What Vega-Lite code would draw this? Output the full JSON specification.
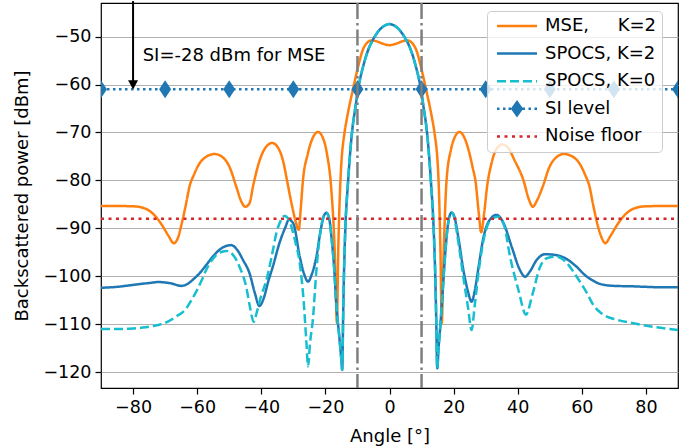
{
  "$schema": "https://vega.github.io/schema/vega-lite/v6.json",
  "width": 577,
  "height": 385,
  "autosize": {"type": "none"},
  "padding": {"left": 101, "top": 3, "right": 21, "bottom": 60},
  "config": {
    "font": "DejaVu Sans",
    "view": {"stroke": "#000000", "strokeWidth": 1.2},
    "axis": {
      "labelFont": "DejaVu Sans", "labelFontSize": 17.5, "labelColor": "#000000",
      "titleFont": "DejaVu Sans", "titleFontSize": 18, "titleFontWeight": "normal", "titleColor": "#000000",
      "tickColor": "#000000", "tickWidth": 1.2, "tickSize": 6, "domain": false, "labelPadding": 4
    },
    "axisX": {"grid": false, "titlePadding": 12},
    "axisY": {"grid": true, "gridColor": "#b0b0b0", "gridWidth": 1.2, "titlePadding": 11},
    "legend": {
      "orient": "none", "legendX": 386, "legendY": 8, "labelFont": "DejaVu Sans", "labelFontSize": 18, "labelColor": "#000000",
      "fillColor": "rgba(255,255,255,0.8)", "strokeColor": "#cccccc", "cornerRadius": 4, "padding": 6,
      "symbolSize": 100, "symbolStrokeWidth": 2.5, "rowPadding": 9.6, "labelOffset": 34, "labelLimit": 300
    }
  },
  "datasets": {
    "curves": [
      {"series": "MSE, K=2", "x": -90, "y": -85.35}, {"series": "MSE, K=2", "x": -85, "y": -85.35}, {"series": "MSE, K=2", "x": -80, "y": -85.4}, {"series": "MSE, K=2", "x": -77, "y": -85.7}, {"series": "MSE, K=2", "x": -75, "y": -86.3}, {"series": "MSE, K=2", "x": -73, "y": -87.5}, {"series": "MSE, K=2", "x": -71, "y": -89.3}, {"series": "MSE, K=2", "x": -69, "y": -91.5}, {"series": "MSE, K=2", "x": -67.3, "y": -93.1}, {"series": "MSE, K=2", "x": -66, "y": -92}, {"series": "MSE, K=2", "x": -65, "y": -89.5}, {"series": "MSE, K=2", "x": -63.5, "y": -85}, {"series": "MSE, K=2", "x": -62.4, "y": -81.3}, {"series": "MSE, K=2", "x": -61, "y": -78.8}, {"series": "MSE, K=2", "x": -59.3, "y": -76.5}, {"series": "MSE, K=2", "x": -57, "y": -75}, {"series": "MSE, K=2", "x": -54.6, "y": -74.5}, {"series": "MSE, K=2", "x": -52, "y": -75.2}, {"series": "MSE, K=2", "x": -49.9, "y": -77.2}, {"series": "MSE, K=2", "x": -47.8, "y": -81.3}, {"series": "MSE, K=2", "x": -46.3, "y": -84.3}, {"series": "MSE, K=2", "x": -45, "y": -85.5}, {"series": "MSE, K=2", "x": -43.7, "y": -84.8}, {"series": "MSE, K=2", "x": -42.5, "y": -81}, {"series": "MSE, K=2", "x": -40.5, "y": -75.8}, {"series": "MSE, K=2", "x": -38.5, "y": -73}, {"series": "MSE, K=2", "x": -36.6, "y": -72.2}, {"series": "MSE, K=2", "x": -34.5, "y": -73.5}, {"series": "MSE, K=2", "x": -33, "y": -76.5}, {"series": "MSE, K=2", "x": -32, "y": -79.9}, {"series": "MSE, K=2", "x": -30.5, "y": -85}, {"series": "MSE, K=2", "x": -29.3, "y": -88.5}, {"series": "MSE, K=2", "x": -28.3, "y": -90.3}, {"series": "MSE, K=2", "x": -27.7, "y": -86}, {"series": "MSE, K=2", "x": -27, "y": -80}, {"series": "MSE, K=2", "x": -25.5, "y": -74.5}, {"series": "MSE, K=2", "x": -24, "y": -71.2}, {"series": "MSE, K=2", "x": -22.3, "y": -69.9}, {"series": "MSE, K=2", "x": -21, "y": -70.8}, {"series": "MSE, K=2", "x": -19.5, "y": -74.5}, {"series": "MSE, K=2", "x": -18.2, "y": -81.5}, {"series": "MSE, K=2", "x": -17.1, "y": -94.5}, {"series": "MSE, K=2", "x": -16.4, "y": -109.7}, {"series": "MSE, K=2", "x": -16, "y": -95}, {"series": "MSE, K=2", "x": -15.3, "y": -80}, {"series": "MSE, K=2", "x": -14, "y": -69.9}, {"series": "MSE, K=2", "x": -13.4, "y": -67.5}, {"series": "MSE, K=2", "x": -11.4, "y": -61}, {"series": "MSE, K=2", "x": -9.8, "y": -56.3}, {"series": "MSE, K=2", "x": -8.4, "y": -52.9}, {"series": "MSE, K=2", "x": -7, "y": -51.3}, {"series": "MSE, K=2", "x": -5.6, "y": -50.8}, {"series": "MSE, K=2", "x": -4, "y": -51}, {"series": "MSE, K=2", "x": -2, "y": -51.5}, {"series": "MSE, K=2", "x": 0, "y": -51.8}, {"series": "MSE, K=2", "x": 2, "y": -51.5}, {"series": "MSE, K=2", "x": 4, "y": -51}, {"series": "MSE, K=2", "x": 5.6, "y": -50.8}, {"series": "MSE, K=2", "x": 7, "y": -51.3}, {"series": "MSE, K=2", "x": 8.4, "y": -52.9}, {"series": "MSE, K=2", "x": 9.8, "y": -56.3}, {"series": "MSE, K=2", "x": 11.4, "y": -61}, {"series": "MSE, K=2", "x": 13.4, "y": -67.5}, {"series": "MSE, K=2", "x": 14, "y": -69.9}, {"series": "MSE, K=2", "x": 15.3, "y": -80}, {"series": "MSE, K=2", "x": 15.9, "y": -95}, {"series": "MSE, K=2", "x": 16.3, "y": -109.8}, {"series": "MSE, K=2", "x": 16.9, "y": -95}, {"series": "MSE, K=2", "x": 17.8, "y": -80}, {"series": "MSE, K=2", "x": 19.2, "y": -73.5}, {"series": "MSE, K=2", "x": 20.5, "y": -70.8}, {"series": "MSE, K=2", "x": 21.8, "y": -69.9}, {"series": "MSE, K=2", "x": 23.3, "y": -71}, {"series": "MSE, K=2", "x": 24.8, "y": -74}, {"series": "MSE, K=2", "x": 26, "y": -77.5}, {"series": "MSE, K=2", "x": 26.8, "y": -80}, {"series": "MSE, K=2", "x": 27.8, "y": -86.5}, {"series": "MSE, K=2", "x": 28.6, "y": -90.8}, {"series": "MSE, K=2", "x": 29.5, "y": -87}, {"series": "MSE, K=2", "x": 30.5, "y": -81}, {"series": "MSE, K=2", "x": 31.8, "y": -76.5}, {"series": "MSE, K=2", "x": 33.5, "y": -73.3}, {"series": "MSE, K=2", "x": 35.3, "y": -72.5}, {"series": "MSE, K=2", "x": 37, "y": -73.2}, {"series": "MSE, K=2", "x": 39, "y": -75.8}, {"series": "MSE, K=2", "x": 41.75, "y": -79.9}, {"series": "MSE, K=2", "x": 43.5, "y": -84}, {"series": "MSE, K=2", "x": 44.7, "y": -85.5}, {"series": "MSE, K=2", "x": 46, "y": -84.2}, {"series": "MSE, K=2", "x": 47.8, "y": -81.3}, {"series": "MSE, K=2", "x": 49.9, "y": -77.2}, {"series": "MSE, K=2", "x": 52, "y": -75.2}, {"series": "MSE, K=2", "x": 54.4, "y": -74.5}, {"series": "MSE, K=2", "x": 57, "y": -75}, {"series": "MSE, K=2", "x": 59.3, "y": -76.5}, {"series": "MSE, K=2", "x": 61, "y": -78.8}, {"series": "MSE, K=2", "x": 62.4, "y": -81.3}, {"series": "MSE, K=2", "x": 63.5, "y": -85}, {"series": "MSE, K=2", "x": 65, "y": -89.5}, {"series": "MSE, K=2", "x": 66.2, "y": -92}, {"series": "MSE, K=2", "x": 67.3, "y": -93.1}, {"series": "MSE, K=2", "x": 69, "y": -91.5}, {"series": "MSE, K=2", "x": 71, "y": -89.3}, {"series": "MSE, K=2", "x": 73, "y": -87.5}, {"series": "MSE, K=2", "x": 75, "y": -86.3}, {"series": "MSE, K=2", "x": 77, "y": -85.7}, {"series": "MSE, K=2", "x": 80, "y": -85.4}, {"series": "MSE, K=2", "x": 85, "y": -85.35}, {"series": "MSE, K=2", "x": 90, "y": -85.35},

      {"series": "SPOCS, K=2", "x": -90, "y": -102.4}, {"series": "SPOCS, K=2", "x": -85, "y": -102.2}, {"series": "SPOCS, K=2", "x": -80, "y": -101.8}, {"series": "SPOCS, K=2", "x": -75, "y": -101.4}, {"series": "SPOCS, K=2", "x": -72, "y": -101.2}, {"series": "SPOCS, K=2", "x": -68, "y": -101.5}, {"series": "SPOCS, K=2", "x": -65, "y": -102}, {"series": "SPOCS, K=2", "x": -63, "y": -101.6}, {"series": "SPOCS, K=2", "x": -61, "y": -100.5}, {"series": "SPOCS, K=2", "x": -59.3, "y": -99.4}, {"series": "SPOCS, K=2", "x": -57, "y": -97.5}, {"series": "SPOCS, K=2", "x": -55, "y": -95.8}, {"series": "SPOCS, K=2", "x": -52.5, "y": -94.2}, {"series": "SPOCS, K=2", "x": -49.4, "y": -93.5}, {"series": "SPOCS, K=2", "x": -47.5, "y": -94.5}, {"series": "SPOCS, K=2", "x": -45.7, "y": -96.6}, {"series": "SPOCS, K=2", "x": -43.7, "y": -99.3}, {"series": "SPOCS, K=2", "x": -42, "y": -103.5}, {"series": "SPOCS, K=2", "x": -40.6, "y": -106.2}, {"series": "SPOCS, K=2", "x": -39.2, "y": -104.5}, {"series": "SPOCS, K=2", "x": -37.8, "y": -101}, {"series": "SPOCS, K=2", "x": -36.4, "y": -98}, {"series": "SPOCS, K=2", "x": -34.3, "y": -93}, {"series": "SPOCS, K=2", "x": -32.5, "y": -89.8}, {"series": "SPOCS, K=2", "x": -31.4, "y": -88.2}, {"series": "SPOCS, K=2", "x": -30, "y": -89}, {"series": "SPOCS, K=2", "x": -28, "y": -95.9}, {"series": "SPOCS, K=2", "x": -26.5, "y": -99.8}, {"series": "SPOCS, K=2", "x": -25.4, "y": -101.1}, {"series": "SPOCS, K=2", "x": -24.2, "y": -99.5}, {"series": "SPOCS, K=2", "x": -22.8, "y": -95.9}, {"series": "SPOCS, K=2", "x": -21.5, "y": -90.5}, {"series": "SPOCS, K=2", "x": -20.5, "y": -87.5}, {"series": "SPOCS, K=2", "x": -19.7, "y": -86.75}, {"series": "SPOCS, K=2", "x": -18.8, "y": -88}, {"series": "SPOCS, K=2", "x": -18, "y": -92.5}, {"series": "SPOCS, K=2", "x": -17.4, "y": -97}, {"series": "SPOCS, K=2", "x": -16.4, "y": -107.5}, {"series": "SPOCS, K=2", "x": -15.6, "y": -113}, {"series": "SPOCS, K=2", "x": -15.1, "y": -116.8}, {"series": "SPOCS, K=2", "x": -14.75, "y": -119.5}, {"series": "SPOCS, K=2", "x": -14.45, "y": -108}, {"series": "SPOCS, K=2", "x": -14.15, "y": -98}, {"series": "SPOCS, K=2", "x": -13.8, "y": -90.5}, {"series": "SPOCS, K=2", "x": -12.9, "y": -80}, {"series": "SPOCS, K=2", "x": -11.7, "y": -70}, {"series": "SPOCS, K=2", "x": -10.6, "y": -64.6}, {"series": "SPOCS, K=2", "x": -9.8, "y": -61}, {"series": "SPOCS, K=2", "x": -8.25, "y": -56.3}, {"series": "SPOCS, K=2", "x": -6.7, "y": -52.9}, {"series": "SPOCS, K=2", "x": -4.6, "y": -50}, {"series": "SPOCS, K=2", "x": -2.5, "y": -48.2}, {"series": "SPOCS, K=2", "x": -1, "y": -47.55}, {"series": "SPOCS, K=2", "x": 0, "y": -47.4}, {"series": "SPOCS, K=2", "x": 1, "y": -47.55}, {"series": "SPOCS, K=2", "x": 2.5, "y": -48.2}, {"series": "SPOCS, K=2", "x": 4.6, "y": -50}, {"series": "SPOCS, K=2", "x": 6.7, "y": -52.9}, {"series": "SPOCS, K=2", "x": 8.25, "y": -56.3}, {"series": "SPOCS, K=2", "x": 9.8, "y": -61}, {"series": "SPOCS, K=2", "x": 10.6, "y": -64.6}, {"series": "SPOCS, K=2", "x": 11.7, "y": -70}, {"series": "SPOCS, K=2", "x": 12.9, "y": -80}, {"series": "SPOCS, K=2", "x": 13.8, "y": -90.5}, {"series": "SPOCS, K=2", "x": 14.2, "y": -98}, {"series": "SPOCS, K=2", "x": 14.55, "y": -108}, {"series": "SPOCS, K=2", "x": 14.9, "y": -119.2}, {"series": "SPOCS, K=2", "x": 15.3, "y": -115}, {"series": "SPOCS, K=2", "x": 15.9, "y": -110}, {"series": "SPOCS, K=2", "x": 16.6, "y": -103}, {"series": "SPOCS, K=2", "x": 17.3, "y": -96}, {"series": "SPOCS, K=2", "x": 18, "y": -90.5}, {"series": "SPOCS, K=2", "x": 18.7, "y": -87.5}, {"series": "SPOCS, K=2", "x": 19.4, "y": -86.7}, {"series": "SPOCS, K=2", "x": 20.2, "y": -87.5}, {"series": "SPOCS, K=2", "x": 21.5, "y": -92}, {"series": "SPOCS, K=2", "x": 23, "y": -98.5}, {"series": "SPOCS, K=2", "x": 24.5, "y": -103.2}, {"series": "SPOCS, K=2", "x": 25.6, "y": -105.3}, {"series": "SPOCS, K=2", "x": 26.6, "y": -103}, {"series": "SPOCS, K=2", "x": 27.8, "y": -98}, {"series": "SPOCS, K=2", "x": 29.25, "y": -92.1}, {"series": "SPOCS, K=2", "x": 31, "y": -88.5}, {"series": "SPOCS, K=2", "x": 33.4, "y": -87.2}, {"series": "SPOCS, K=2", "x": 35.5, "y": -88.8}, {"series": "SPOCS, K=2", "x": 38.1, "y": -93.8}, {"series": "SPOCS, K=2", "x": 40.7, "y": -98.7}, {"series": "SPOCS, K=2", "x": 42.3, "y": -100.1}, {"series": "SPOCS, K=2", "x": 43.8, "y": -99}, {"series": "SPOCS, K=2", "x": 45.9, "y": -96.6}, {"series": "SPOCS, K=2", "x": 48.5, "y": -95.4}, {"series": "SPOCS, K=2", "x": 52.2, "y": -95.6}, {"series": "SPOCS, K=2", "x": 55, "y": -96.3}, {"series": "SPOCS, K=2", "x": 58, "y": -97.8}, {"series": "SPOCS, K=2", "x": 61.6, "y": -100.1}, {"series": "SPOCS, K=2", "x": 63.5, "y": -100.9}, {"series": "SPOCS, K=2", "x": 65.7, "y": -101.6}, {"series": "SPOCS, K=2", "x": 70, "y": -102}, {"series": "SPOCS, K=2", "x": 76, "y": -102.1}, {"series": "SPOCS, K=2", "x": 80, "y": -102.2}, {"series": "SPOCS, K=2", "x": 85, "y": -102.3}, {"series": "SPOCS, K=2", "x": 90, "y": -102.3},

      {"series": "SPOCS, K=0", "x": -90, "y": -111}, {"series": "SPOCS, K=0", "x": -85, "y": -111}, {"series": "SPOCS, K=0", "x": -80, "y": -110.9}, {"series": "SPOCS, K=0", "x": -77, "y": -110.7}, {"series": "SPOCS, K=0", "x": -74, "y": -110.4}, {"series": "SPOCS, K=0", "x": -71.8, "y": -110.1}, {"series": "SPOCS, K=0", "x": -69, "y": -109.4}, {"series": "SPOCS, K=0", "x": -66.6, "y": -108.4}, {"series": "SPOCS, K=0", "x": -63.4, "y": -106.7}, {"series": "SPOCS, K=0", "x": -61.8, "y": -105}, {"series": "SPOCS, K=0", "x": -60.3, "y": -103.2}, {"series": "SPOCS, K=0", "x": -58.7, "y": -101}, {"series": "SPOCS, K=0", "x": -57.2, "y": -98.7}, {"series": "SPOCS, K=0", "x": -55.6, "y": -96.8}, {"series": "SPOCS, K=0", "x": -54.1, "y": -95.6}, {"series": "SPOCS, K=0", "x": -50.9, "y": -94.7}, {"series": "SPOCS, K=0", "x": -48.5, "y": -95.8}, {"series": "SPOCS, K=0", "x": -46.8, "y": -98}, {"series": "SPOCS, K=0", "x": -44.7, "y": -102.2}, {"series": "SPOCS, K=0", "x": -43.5, "y": -106.5}, {"series": "SPOCS, K=0", "x": -42.4, "y": -109.5}, {"series": "SPOCS, K=0", "x": -41.2, "y": -107}, {"series": "SPOCS, K=0", "x": -40, "y": -104}, {"series": "SPOCS, K=0", "x": -38.4, "y": -100.8}, {"series": "SPOCS, K=0", "x": -36.5, "y": -95}, {"series": "SPOCS, K=0", "x": -35.3, "y": -91}, {"series": "SPOCS, K=0", "x": -34, "y": -88.5}, {"series": "SPOCS, K=0", "x": -32.7, "y": -87.4}, {"series": "SPOCS, K=0", "x": -31.2, "y": -88.5}, {"series": "SPOCS, K=0", "x": -29.5, "y": -92.5}, {"series": "SPOCS, K=0", "x": -28, "y": -97.3}, {"series": "SPOCS, K=0", "x": -26.8, "y": -105}, {"series": "SPOCS, K=0", "x": -25.9, "y": -114}, {"series": "SPOCS, K=0", "x": -25.4, "y": -118.8}, {"series": "SPOCS, K=0", "x": -24.8, "y": -114}, {"series": "SPOCS, K=0", "x": -23.9, "y": -109}, {"series": "SPOCS, K=0", "x": -22.8, "y": -98.7}, {"series": "SPOCS, K=0", "x": -21.8, "y": -92}, {"series": "SPOCS, K=0", "x": -20.8, "y": -88}, {"series": "SPOCS, K=0", "x": -19.7, "y": -86.75}, {"series": "SPOCS, K=0", "x": -18.8, "y": -88}, {"series": "SPOCS, K=0", "x": -18, "y": -92.5}, {"series": "SPOCS, K=0", "x": -17.4, "y": -97}, {"series": "SPOCS, K=0", "x": -16.4, "y": -107.5}, {"series": "SPOCS, K=0", "x": -15.6, "y": -113}, {"series": "SPOCS, K=0", "x": -15.1, "y": -116.8}, {"series": "SPOCS, K=0", "x": -14.75, "y": -119.5}, {"series": "SPOCS, K=0", "x": -14.45, "y": -108}, {"series": "SPOCS, K=0", "x": -14.15, "y": -98}, {"series": "SPOCS, K=0", "x": -13.8, "y": -90.5}, {"series": "SPOCS, K=0", "x": -12.9, "y": -80}, {"series": "SPOCS, K=0", "x": -11.7, "y": -70}, {"series": "SPOCS, K=0", "x": -10.6, "y": -64.6}, {"series": "SPOCS, K=0", "x": -9.8, "y": -61}, {"series": "SPOCS, K=0", "x": -8.25, "y": -56.3}, {"series": "SPOCS, K=0", "x": -6.7, "y": -52.9}, {"series": "SPOCS, K=0", "x": -4.6, "y": -50}, {"series": "SPOCS, K=0", "x": -2.5, "y": -48.2}, {"series": "SPOCS, K=0", "x": -1, "y": -47.55}, {"series": "SPOCS, K=0", "x": 0, "y": -47.4}, {"series": "SPOCS, K=0", "x": 1, "y": -47.55}, {"series": "SPOCS, K=0", "x": 2.5, "y": -48.2}, {"series": "SPOCS, K=0", "x": 4.6, "y": -50}, {"series": "SPOCS, K=0", "x": 6.7, "y": -52.9}, {"series": "SPOCS, K=0", "x": 8.25, "y": -56.3}, {"series": "SPOCS, K=0", "x": 9.8, "y": -61}, {"series": "SPOCS, K=0", "x": 10.6, "y": -64.6}, {"series": "SPOCS, K=0", "x": 11.7, "y": -70}, {"series": "SPOCS, K=0", "x": 12.9, "y": -80}, {"series": "SPOCS, K=0", "x": 13.8, "y": -90.5}, {"series": "SPOCS, K=0", "x": 14.2, "y": -98}, {"series": "SPOCS, K=0", "x": 14.55, "y": -108}, {"series": "SPOCS, K=0", "x": 14.9, "y": -119.2}, {"series": "SPOCS, K=0", "x": 15.3, "y": -115}, {"series": "SPOCS, K=0", "x": 15.9, "y": -110}, {"series": "SPOCS, K=0", "x": 16.6, "y": -103}, {"series": "SPOCS, K=0", "x": 17.3, "y": -96}, {"series": "SPOCS, K=0", "x": 18, "y": -90.5}, {"series": "SPOCS, K=0", "x": 18.7, "y": -87.5}, {"series": "SPOCS, K=0", "x": 19.4, "y": -86.7}, {"series": "SPOCS, K=0", "x": 20.2, "y": -87.8}, {"series": "SPOCS, K=0", "x": 21.5, "y": -93}, {"series": "SPOCS, K=0", "x": 23, "y": -100}, {"series": "SPOCS, K=0", "x": 24.5, "y": -106.5}, {"series": "SPOCS, K=0", "x": 25.6, "y": -111.2}, {"series": "SPOCS, K=0", "x": 26.6, "y": -106}, {"series": "SPOCS, K=0", "x": 27.8, "y": -99}, {"series": "SPOCS, K=0", "x": 29.5, "y": -92}, {"series": "SPOCS, K=0", "x": 31.5, "y": -88.3}, {"series": "SPOCS, K=0", "x": 33.8, "y": -87.6}, {"series": "SPOCS, K=0", "x": 35.8, "y": -89.5}, {"series": "SPOCS, K=0", "x": 37.6, "y": -95.9}, {"series": "SPOCS, K=0", "x": 40.2, "y": -102.8}, {"series": "SPOCS, K=0", "x": 42.6, "y": -108}, {"series": "SPOCS, K=0", "x": 44.5, "y": -104}, {"series": "SPOCS, K=0", "x": 47, "y": -98}, {"series": "SPOCS, K=0", "x": 49.1, "y": -96.25}, {"series": "SPOCS, K=0", "x": 52.2, "y": -95.9}, {"series": "SPOCS, K=0", "x": 55, "y": -97}, {"series": "SPOCS, K=0", "x": 58.4, "y": -100.1}, {"series": "SPOCS, K=0", "x": 61.6, "y": -103.5}, {"series": "SPOCS, K=0", "x": 63.6, "y": -106}, {"series": "SPOCS, K=0", "x": 65.7, "y": -107.5}, {"series": "SPOCS, K=0", "x": 67.8, "y": -108.4}, {"series": "SPOCS, K=0", "x": 70, "y": -108.9}, {"series": "SPOCS, K=0", "x": 76.1, "y": -109.8}, {"series": "SPOCS, K=0", "x": 83, "y": -110.6}, {"series": "SPOCS, K=0", "x": 90, "y": -111.2},

      {"series": "SI level", "x": -90, "y": -61}, {"series": "SI level", "x": -70, "y": -61}, {"series": "SI level", "x": -50, "y": -61}, {"series": "SI level", "x": -30, "y": -61}, {"series": "SI level", "x": -10, "y": -61}, {"series": "SI level", "x": 10, "y": -61}, {"series": "SI level", "x": 30, "y": -61}, {"series": "SI level", "x": 50, "y": -61}, {"series": "SI level", "x": 70, "y": -61}, {"series": "SI level", "x": 90, "y": -61},

      {"series": "Noise floor", "x": -90, "y": -88}, {"series": "Noise floor", "x": 90, "y": -88}
    ],
    "vlines": [{"angle": -10}, {"angle": 10}],
    "arrow": [{"x": -80, "ytop": -42.6, "ytip": -60.1, "yhead": -60.07}],
    "note": [{"x": -77, "y": -55.1, "label": "SI=-28 dBm for MSE"}]
  },
  "layer": [
    {
      "data": {"name": "curves"},
      "mark": {"type": "line", "interpolate": "monotone", "strokeWidth": 2.5, "clip": true},
      "encoding": {
        "x": {"field": "x", "type": "quantitative", "scale": {"domain": [-90, 90], "nice": false, "zero": false},
              "axis": {"values": [-80, -60, -40, -20, 0, 20, 40, 60, 80], "title": "Angle [°]"}},
        "y": {"field": "y", "type": "quantitative", "scale": {"domain": [-123.3, -43.0], "nice": false, "zero": false},
              "axis": {"values": [-120, -110, -100, -90, -80, -70, -60, -50], "title": "Backscattered power [dBm]"}},
        "color": {"field": "series", "type": "nominal",
          "scale": {"domain": ["MSE, K=2", "SPOCS, K=2", "SPOCS, K=0", "SI level", "Noise floor"],
                    "range": ["#ff7f0e", "#1f77b4", "#17becf", "#1f77b4", "#d62728"]},
          "legend": {"title": null,
            "labelExpr": "datum.value === 'MSE, K=2' ? 'MSE,\u00a0\u00a0\u00a0\u00a0\u00a0K=2' : datum.value",
            "encode": {"symbols": {"update": {
              "shape": {"signal": "datum.value === 'SI level' ? 'M-1,-0.25h0.5v0.5h-0.5Z M0.2,-0.25h0.5v0.5h-0.5Z M4.1,-0.25h0.5v0.5h-0.5Z M5.3,-0.25h0.5v0.5h-0.5Z M6.5,-0.25h0.5v0.5h-0.5Z M3,-1.75L4.25,0L3,1.75L1.75,0Z M1.3,-0.25h0.5v0.5h-0.5Z' : 'M-1,0H7'"},
              "fill": {"signal": "datum.value === 'SI level' ? '#1f77b4' : 'transparent'"},
              "strokeWidth": {"signal": "datum.value === 'SI level' ? 0 : 2.5"}}}}}},
        "strokeDash": {"field": "series", "type": "nominal",
          "scale": {"domain": ["MSE, K=2", "SPOCS, K=2", "SPOCS, K=0", "SI level", "Noise floor"],
                    "range": [[1, 0], [1, 0], [9, 4], [2.5, 3.5], [3, 4.5]]},
          "legend": {"title": null,
            "labelExpr": "datum.value === 'MSE, K=2' ? 'MSE,\u00a0\u00a0\u00a0\u00a0\u00a0K=2' : datum.value",
            "encode": {"symbols": {"update": {
              "shape": {"signal": "datum.value === 'SI level' ? 'M-1,-0.25h0.5v0.5h-0.5Z M0.2,-0.25h0.5v0.5h-0.5Z M4.1,-0.25h0.5v0.5h-0.5Z M5.3,-0.25h0.5v0.5h-0.5Z M6.5,-0.25h0.5v0.5h-0.5Z M3,-1.75L4.25,0L3,1.75L1.75,0Z M1.3,-0.25h0.5v0.5h-0.5Z' : 'M-1,0H7'"},
              "fill": {"signal": "datum.value === 'SI level' ? '#1f77b4' : 'transparent'"},
              "strokeWidth": {"signal": "datum.value === 'SI level' ? 0 : 2.5"}}}}}}
      }
    },
    {
      "data": {"name": "curves"},
      "transform": [{"filter": "datum.series === 'SI level'"}],
      "mark": {"type": "point", "shape": "M0,-1.5L1,0L0,1.5L-1,0Z", "size": 144, "filled": true, "opacity": 1, "color": "#1f77b4", "clip": true},
      "encoding": {"x": {"field": "x", "type": "quantitative"}, "y": {"field": "y", "type": "quantitative"}}
    },
    {
      "data": {"name": "vlines"},
      "mark": {"type": "rule", "color": "#7f7f7f", "strokeWidth": 2.5, "strokeDash": [16, 4, 2.5, 4]},
      "encoding": {"x": {"field": "angle", "type": "quantitative"}}
    },
    {
      "data": {"name": "arrow"},
      "mark": {"type": "rule", "color": "#000000", "strokeWidth": 2, "clip": false},
      "encoding": {"x": {"field": "x", "type": "quantitative"}, "y": {"field": "ytop", "type": "quantitative"}, "y2": {"field": "ytip"}}
    },
    {
      "data": {"name": "arrow"},
      "mark": {"type": "point", "shape": "M-1,-0.93L1,-0.93L0,0.93Z", "size": 100, "filled": true, "opacity": 1, "color": "#000000", "clip": false},
      "encoding": {"x": {"field": "x", "type": "quantitative"}, "y": {"field": "yhead", "type": "quantitative"}}
    },
    {
      "data": {"name": "note"},
      "mark": {"type": "text", "align": "left", "baseline": "alphabetic", "fontSize": 18, "font": "DejaVu Sans", "color": "#000000"},
      "encoding": {"x": {"field": "x", "type": "quantitative"}, "y": {"field": "y", "type": "quantitative"}, "text": {"field": "label"}}
    }
  ]
}
